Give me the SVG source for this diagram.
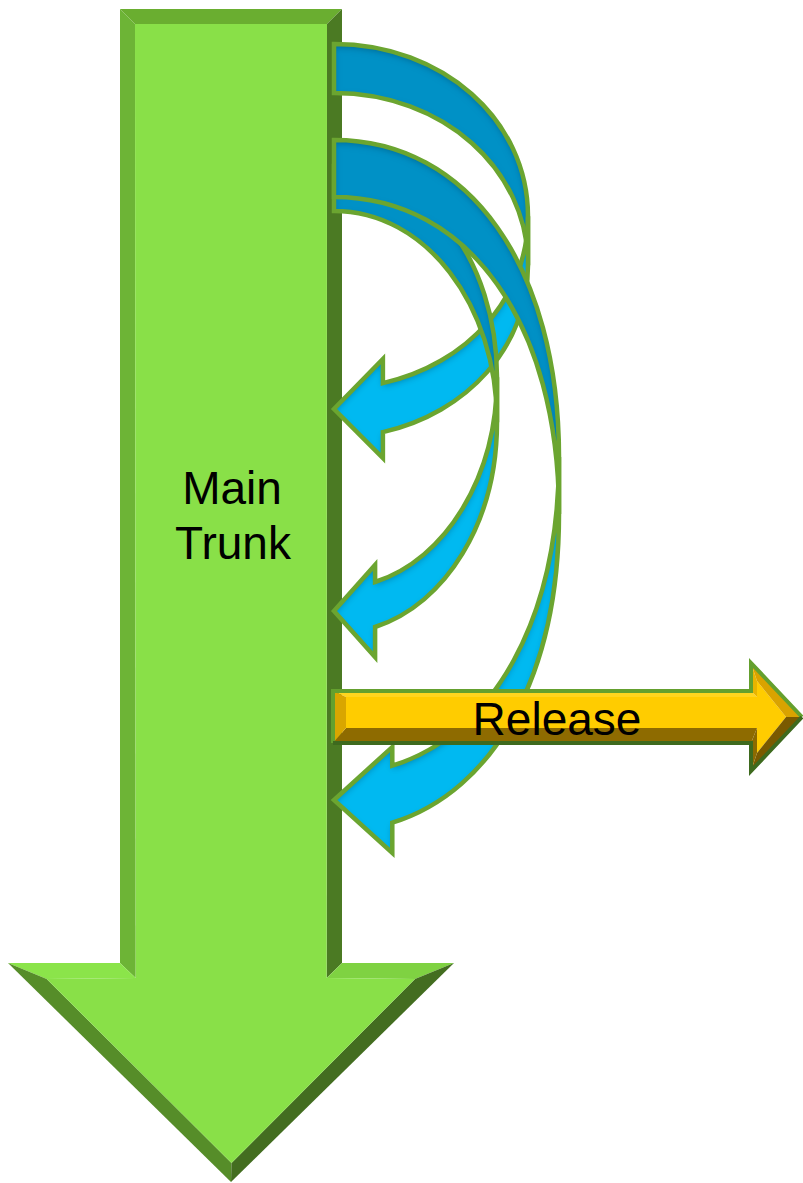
<svg xmlns="http://www.w3.org/2000/svg" width="803" height="1183" viewBox="0 0 803 1183">
<defs>
<style>
.lbl{font-family:"Liberation Sans",Arial,sans-serif;font-size:46px;fill:#000;text-anchor:middle}
.back{fill:#0091C6}
.front{fill:#00B9F1}
.edge{fill:none;stroke:#6BA530;stroke-width:4.5;stroke-linejoin:miter}
</style>
<filter id="inshadow" x="-5%" y="-5%" width="110%" height="110%">
<feComponentTransfer in="SourceAlpha" result="inv"><feFuncA type="table" tableValues="1 0"/></feComponentTransfer>
<feGaussianBlur in="inv" stdDeviation="3.5"/>
<feOffset dx="0" dy="3" result="sh"/>
<feFlood flood-color="#00304F" flood-opacity="0.6"/>
<feComposite in2="sh" operator="in"/>
<feComposite in2="SourceAlpha" operator="in" result="s"/>
<feMerge><feMergeNode in="SourceGraphic"/><feMergeNode in="s"/></feMerge>
</filter>
</defs>
<rect width="803" height="1183" fill="#fff"/>

<g id="main-trunk">
<polygon points="120,9 342,9 327,24 135,24" fill="#6AAE30"/>
<polygon points="120,9 135,24 135.7,978 120,963" fill="#6DB436"/>
<polygon points="342,9 342,963 326.7,978 327,24" fill="#4B7A23"/>
<polygon points="120,963 135.7,978 46.7,979 8,963" fill="#8BE44A"/>
<polygon points="342,963 454,963 415,979 326.7,978" fill="#7FD242"/>
<polygon points="8,963 46.7,979 231.5,1163 231,1182" fill="#568D29"/>
<polygon points="231,1182 231.5,1163 415,979 454,963" fill="#436D20"/>
<polygon points="135,24 327,24 326.7,978 415,979 231.5,1163 46.7,979 135.7,978" fill="#89E048"/>
<text class="lbl" x="232" y="504">Main</text>
<text class="lbl" x="233" y="559">Trunk</text>
</g>

<g id="connectors">
<g id="loop-1">
<path class="back" filter="url(#inshadow)" d="M334,44 C442.6,44 528,119.8 528,216.2 L528,265.2 C528,168.8 442.6,93 334,93 Z"/>
<path class="edge" d="M334,44 C442.6,44 528,119.8 528,216.2 L528,265.2 C528,168.8 442.6,93 334,93 Z"/>
<path class="front" filter="url(#inshadow)" d="M528,216.2 C528,297.6 467.1,364.3 382.9,383.1 L382.9,359 L334,409 L382.9,458 L382.9,432.1 C467.1,413.3 528,346.6 528,265.2 Z"/>
<path class="edge" d="M528,216.2 C528,297.6 467.1,364.3 382.9,383.1 L382.9,359 L334,409 L382.9,458 L382.9,432.1 C467.1,413.3 528,346.6 528,265.2 Z"/>
</g>
<g id="loop-2">
<path class="back" filter="url(#inshadow)" d="M334,166 C425.3,166 497,259 497,377.3 L497,422.3 C497,304 425.3,211 334,211 Z"/>
<path class="edge" d="M334,166 C425.3,166 497,259 497,377.3 L497,422.3 C497,304 425.3,211 334,211 Z"/>
<path class="front" filter="url(#inshadow)" d="M497,377.3 C497,477.1 445.9,559 375.1,582 L375.1,565 L334,611 L375.1,657 L375.1,627 C445.9,604 497,522.1 497,422.3 Z"/>
<path class="edge" d="M497,377.3 C497,477.1 445.9,559 375.1,582 L375.1,565 L334,611 L375.1,657 L375.1,627 C445.9,604 497,522.1 497,422.3 Z"/>
</g>
<g id="loop-3">
<path class="back" filter="url(#inshadow)" d="M334,140 C469,140 559,267 559,457 L559,514 C559,324 469,197 334,197 Z"/>
<path class="edge" d="M334,140 C469,140 559,267 559,457 L559,514 C559,324 469,197 334,197 Z"/>
<path class="front" filter="url(#inshadow)" d="M559,457 C559,618.3 494.3,734.2 392.3,765.7 L392.3,747 L334,800 L392.3,853 L392.3,822.7 C494.3,791.2 559,675.3 559,514 Z"/>
<path class="edge" d="M559,457 C559,618.3 494.3,734.2 392.3,765.7 L392.3,747 L334,800 L392.3,853 L392.3,822.7 C494.3,791.2 559,675.3 559,514 Z"/>
</g>
</g>

<g id="release">
<polygon points="346,697 757,697 757,681 786,717 757,753 757,728 346,728" fill="#FFCC00"/>
<polygon points="333,691 751,691 757,697 346,697" fill="#FFD51E"/>
<polygon points="751,691 751,663 757,681 757,697" fill="#E8B400"/>
<polygon points="751,663 802,717 786,717 757,681" fill="#D9A300"/>
<polygon points="802,717 751,771 757,753 786,717" fill="#7A5A00"/>
<polygon points="751,771 751,743 757,728 757,753" fill="#8C6A00"/>
<polygon points="751,743 333,743 346,728 757,728" fill="#8E6B00"/>
<polygon points="333,743 333,691 346,697 346,728" fill="#D9A600"/>
<polyline points="333,743 333,691 751,691 751,663 802,717" fill="none" stroke="#64A02E" stroke-width="4" stroke-linejoin="miter"/>
<polyline points="802,717 751,771 751,743 333,743" fill="none" stroke="#3E6A1E" stroke-width="4" stroke-linejoin="miter"/>
<text class="lbl" x="557" y="735">Release</text>
</g>
</svg>
